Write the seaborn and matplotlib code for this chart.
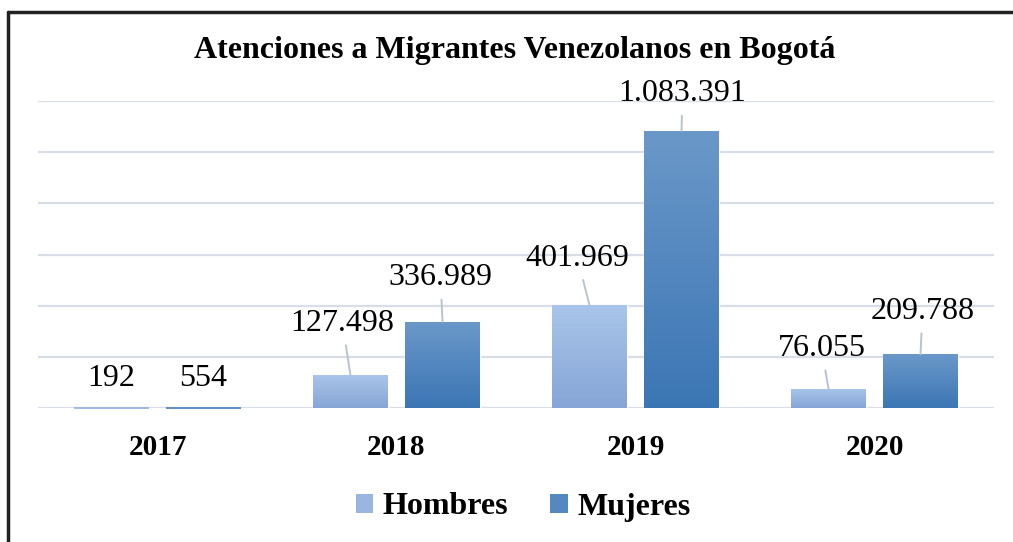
import numpy as np
import pandas as pd
import matplotlib
matplotlib.use("Agg")
import matplotlib.pyplot as plt
import seaborn as sns
from matplotlib.patches import Patch
from matplotlib.lines import Line2D
from matplotlib.colors import LinearSegmentedColormap

# ---------------- data ----------------
years = ["2017", "2018", "2019", "2020"]
series = ["Hombres", "Mujeres"]
hombres = [192, 127498, 401969, 76055]
mujeres = [554, 336989, 1083391, 209788]
title = "Atenciones a Migrantes Venezolanos en Bogotá"

# ---------------- style ----------------
SERIF = ["Liberation Serif", "DejaVu Serif"]
top_colors = {"Hombres": "#a9c5ea", "Mujeres": "#6b98c9"}
bot_colors = {"Hombres": "#86a5d6", "Mujeres": "#3b76b4"}
mid_colors = {"Hombres": "#98b6e0", "Mujeres": "#5587c0"}
# label offsets (pixels, relative to top-center of each bar), per series then year
label_offsets = {
    "Hombres": [(0, -29), (-8, -52), (-12, -47), (-7, -40)],
    "Mujeres": [(0, -29), (-2, -44), (1, -37), (2, -43)],
}

sns.set_theme(style="white")
plt.rcParams["font.family"] = SERIF
plt.rcParams["text.color"] = "black"

df = pd.DataFrame({
    "Año": years * 2,
    "Sexo": [series[0]] * len(years) + [series[1]] * len(years),
    "Valor": hombres + mujeres,
})

W, H = 1013, 542
fig = plt.figure(figsize=(W / 100, H / 100), dpi=100)
ax = fig.add_axes([38 / W, 1 - 408 / H, (994 - 38) / W, (408 - 101) / H])

sns.barplot(data=df, x="Año", y="Valor", hue="Sexo", order=years,
            hue_order=series, palette=[mid_colors[s] for s in series],
            width=0.77, gap=0.185, ax=ax, legend=False, errorbar=None,
            zorder=3)

ax.set_xlim(-0.5, 3.5)
ax.set_ylim(0, 1200000)
ax.set_yticks(np.arange(0, 1200001, 200000))
ax.set_yticklabels([])
ax.tick_params(axis="y", length=0)
ax.tick_params(axis="x", length=0, pad=19)
ax.grid(axis="y", color="#d9dee6", lw=1.6, zorder=0)
ax.set_axisbelow(True)
for s in ax.spines.values():
    s.set_visible(False)
ax.set_xlabel("")
ax.set_ylabel("")
for lbl in ax.get_xticklabels():
    lbl.set_fontfamily(SERIF)
    lbl.set_fontweight("bold")
    lbl.set_fontsize(21)
    lbl.set_color("black")

# gradient fills
grad = np.linspace(0, 1, 256).reshape(-1, 1)
for cont, s in zip(ax.containers, series):
    cmap = LinearSegmentedColormap.from_list(s, [bot_colors[s], top_colors[s]])
    for bar in cont:
        x0, y0 = bar.get_x(), bar.get_y()
        w, h = bar.get_width(), bar.get_height()
        if h < 2000:
            # very small bars are drawn as a thin visible line
            bar.set_edgecolor(mid_colors[s])
            bar.set_facecolor(mid_colors[s])
            bar.set_linewidth(1.3)
            bar.set_clip_on(False)
            bar.set_zorder(5)
            continue
        im = ax.imshow(grad, extent=[x0, x0 + w, y0, y0 + h], origin="lower",
                       aspect="auto", cmap=cmap, zorder=4)
        im.set_clip_path(bar)
ax.set_xlim(-0.5, 3.5)
ax.set_ylim(0, 1200000)

# data labels with leader lines
for cont, s in zip(ax.containers, series):
    for bar, val, off in zip(cont, cont.datavalues, label_offsets[s]):
        xc = bar.get_x() + bar.get_width() / 2
        yt = bar.get_height()
        txt = f"{int(val):,}".replace(",", ".")
        dx, dy = off
        show_leader = abs(dy) > 32
        ax.annotate(txt, xy=(xc, yt), xycoords="data",
                    xytext=(dx * 0.72, -dy * 0.72), textcoords="offset points",
                    ha="center", va="center", fontsize=23, family=SERIF,
                    color="black", zorder=6,
                    arrowprops=dict(arrowstyle="-", color="#b7c3d3", lw=1.4,
                                    shrinkA=3, shrinkB=0) if show_leader else None)

# title
fig.text(515 / W, 1 - 51 / H, title, ha="center", va="center",
         fontsize=23, fontweight="bold", family=SERIF, color="black")

# legend
handles = [Patch(facecolor=mid_colors[s], edgecolor="none") for s in series]
leg = fig.legend(handles, series, loc="center", bbox_to_anchor=(523 / W, 1 - 507 / H),
                 ncol=2, frameon=False,
                 prop={"family": SERIF, "weight": "bold", "size": 23},
                 handlelength=0.55, handleheight=0.55, handletextpad=0.3,
                 columnspacing=1.3)
for t in leg.get_texts():
    t.set_color("black")

# chart border (left & top visible)
fig.add_artist(Line2D([8 / W, 8 / W], [0, 1 - 12 / H], transform=fig.transFigure,
                      color="#222222", lw=2.5))
fig.add_artist(Line2D([8 / W, 1], [1 - 12 / H, 1 - 12 / H], transform=fig.transFigure,
                      color="#222222", lw=2.5))

fig.savefig("out.png", dpi=100, facecolor="white")
